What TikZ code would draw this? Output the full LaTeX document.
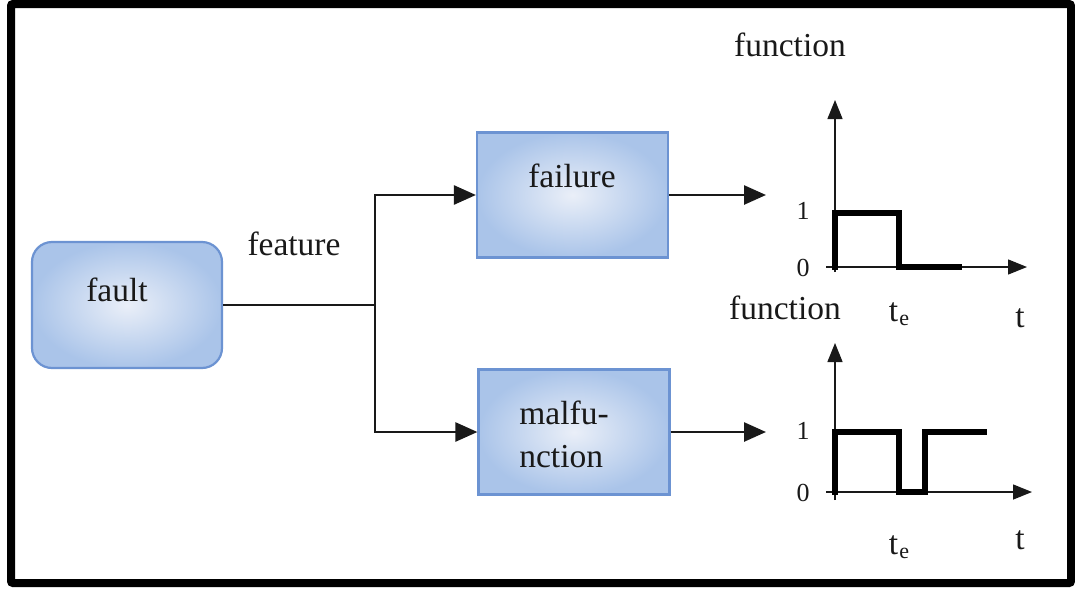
\documentclass[tikz,border=0pt]{standalone}
\usepackage{fontspec}
\setmainfont{Liberation Serif}
\newfontfamily\diagfont{Liberation Serif}
\usetikzlibrary{arrows.meta}

\definecolor{boxedge}{RGB}{108,147,210}
\definecolor{boxlight}{RGB}{234,239,248}
\definecolor{boxdark}{RGB}{170,196,233}
\definecolor{ink}{RGB}{25,25,25}

\tikzset{
  blockbox/.style={draw=boxedge, line width=2.2pt, inner color=boxlight,
    outer color=boxdark, minimum width=191pt, minimum height=125pt, inner sep=0pt},
  lbl/.style={text=ink, inner sep=0pt, font=\diagfont\fontsize{33.5}{43}\selectfont},
  digit/.style={text=ink, inner sep=0pt, font=\diagfont\fontsize{26}{30}\selectfont},
  conn/.style={line width=2.6pt, draw=ink},
  flow/.style={conn, -{Triangle[length=22pt,width=19pt]}},
  axisline/.style={line width=1.4pt, draw=ink, -{Triangle[length=19pt,width=15pt]}},
  signal/.style={line width=6pt, draw=black, line cap=butt, line join=miter},
}

\newcommand{\tsub}{t\kern1pt\raisebox{-4pt}{\fontsize{22}{22}\selectfont e}}

\begin{document}
\begin{tikzpicture}[x=1pt,y=-1pt]
  % page and frame
  \fill[white] (0,0) rectangle (1075,589);
  \useasboundingbox (0,0) rectangle (1075,589);
  \draw[line width=8pt, rounded corners=2pt] (11,4) rectangle (1071,583);

  % blocks
  \node[blockbox, rounded corners=20pt, minimum width=190pt, minimum height=126pt]
    (fault) at (127,305) {};
  \node[lbl] (faulttxt) at (117,290) {fault};
  \node[blockbox] (failure) at (572.5,195) {};
  \node[lbl] (failuretxt) at (572,176) {failure};
  \node[blockbox] (malf) at (574,432) {};
  \node[lbl, align=left] (malftxt) at (564,434) {malfu-\\nction};

  \node[lbl] (feature) at (294,244) {feature};

  % branching connectors
  \coordinate (split) at (375,305);
  \draw[conn] (fault.east) -- (split);
  \draw[flow] (split) |- (failure.west);
  \draw[flow] (split) |- (malf.west);

  \coordinate (out1) at (766,195);
  \coordinate (out2) at (766,432);
  \draw[flow] (failure.east) -- (out1);
  \draw[flow] (malf.east) -- (out2);

  % upper time plot
  \coordinate (o1) at (835,267);
  \draw[axisline] (835,272) -- (835,100);
  \draw[axisline] (826,267) -- (1027,267);
  \draw[signal] (835,270) -- (835,213) -- (899,213) -- (899,267) -- (962,267);
  \node[lbl] (fn1) at (790,45) {function};
  \node[digit] (one1) at (803,211) {1};
  \node[digit] (zero1) at (803,268) {0};
  \node[lbl] (te1) at (899,314) {\tsub};
  \node[lbl] (t1) at (1020,318) {t};

  % lower time plot
  \coordinate (o2) at (835,492);
  \draw[axisline] (835,500) -- (835,343);
  \draw[axisline] (826,492) -- (1032,492);
  \draw[signal] (835,495) -- (835,432) -- (899,432) -- (899,492) -- (925,492)
    -- (925,432) -- (987,432);
  \node[lbl] (fn2) at (785,308) {function};
  \node[digit] (one2) at (803,431) {1};
  \node[digit] (zero2) at (803,493) {0};
  \node[lbl] (te2) at (899,547) {\tsub};
  \node[lbl] (t2) at (1020,540) {t};
\end{tikzpicture}
\end{document}
